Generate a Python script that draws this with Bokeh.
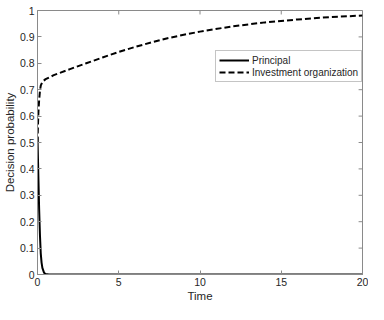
from bokeh.plotting import figure
from bokeh.models import FixedTicker, CustomJSTickFormatter, Range1d, Legend, LegendItem
from bokeh.embed import file_html
from bokeh.resources import INLINE

# Data
principal_t = [0, 0.05, 0.1, 0.15, 0.2, 0.25, 0.3, 0.4, 0.5, 0.7, 1, 5, 10, 15, 20]
principal_p = [0.52, 0.38, 0.25, 0.15, 0.08, 0.045, 0.025, 0.007, 0.002, 0, 0, 0, 0, 0, 0]

invest_t = [0, 0.03, 0.06, 0.1, 0.15, 0.2, 0.3, 0.5, 1, 2, 3, 4, 5, 6, 7, 8, 9, 10, 12, 14, 16, 18, 20]
invest_p = [0.50, 0.57, 0.62, 0.66, 0.695, 0.715, 0.73, 0.74, 0.755, 0.778, 0.80, 0.822, 0.843,
            0.862, 0.879, 0.895, 0.908, 0.92, 0.94, 0.955, 0.966, 0.975, 0.981]

x_ticks = [0, 5, 10, 15, 20]
y_ticks = [0, 0.1, 0.2, 0.3, 0.4, 0.5, 0.6, 0.7, 0.8, 0.9, 1]

FONT = "Liberation Sans"
AX = "#8a8a8a"
TXT = "#262626"

p = figure(width=368, height=304, output_backend="svg", toolbar_location=None,
           x_range=Range1d(0, 20), y_range=Range1d(0, 1),
           min_border_left=32, min_border_right=6, min_border_top=10, min_border_bottom=24)
p.outline_line_color = AX
p.outline_line_width = 1
p.grid.visible = False
p.background_fill_color = "white"
p.border_fill_color = "white"

yfmt = CustomJSTickFormatter(code="return String(Math.round(tick*10)/10)")

for ax in p.xaxis:
    ax.ticker = FixedTicker(ticks=x_ticks)
    ax.axis_label = "Time"
for ax in p.yaxis:
    ax.ticker = FixedTicker(ticks=y_ticks)
    ax.formatter = yfmt
    ax.axis_label = "Decision probability"

for ax in p.xaxis + p.yaxis:
    ax.axis_line_color = AX
    ax.major_tick_line_color = AX
    ax.major_tick_in = 4
    ax.major_tick_out = 0
    ax.minor_tick_line_color = None
    ax.major_label_text_font = FONT
    ax.major_label_text_font_size = "10.5px"
    ax.major_label_text_color = TXT
    ax.axis_label_text_font = FONT
    ax.axis_label_text_font_size = "11.5px"
    ax.axis_label_text_font_style = "normal"
    ax.axis_label_text_color = TXT
    ax.major_label_standoff = 3
    ax.axis_label_standoff = 1

# inward tick marks on the top and right edges of the box
p.segment(x0=x_ticks, y0=[1] * len(x_ticks), x1=x_ticks, y1=[0.985] * len(x_ticks),
          line_color=AX, line_width=1)
p.segment(x0=[20] * len(y_ticks), y0=y_ticks, x1=[19.76] * len(y_ticks), y1=y_ticks,
          line_color=AX, line_width=1)

r1 = p.line(principal_t, principal_p, line_color="black", line_width=2)
r2 = p.line(invest_t, invest_p, line_color="black", line_width=2, line_dash="6 3")

legend = Legend(items=[LegendItem(label="Principal", renderers=[r1]),
                       LegendItem(label="Investment organization", renderers=[r2])],
                location=(178, 192))
legend.label_text_font = FONT
legend.label_text_font_size = "10px"
legend.label_text_color = TXT
legend.glyph_width = 30
legend.glyph_height = 12
legend.label_height = 12
legend.label_standoff = 3
legend.spacing = 0
legend.padding = 3
legend.margin = 0
legend.border_line_color = AX
legend.background_fill_color = "white"
legend.background_fill_alpha = 1
p.add_layout(legend, "center")

open("out.html", "w").write(file_html(p, INLINE))
